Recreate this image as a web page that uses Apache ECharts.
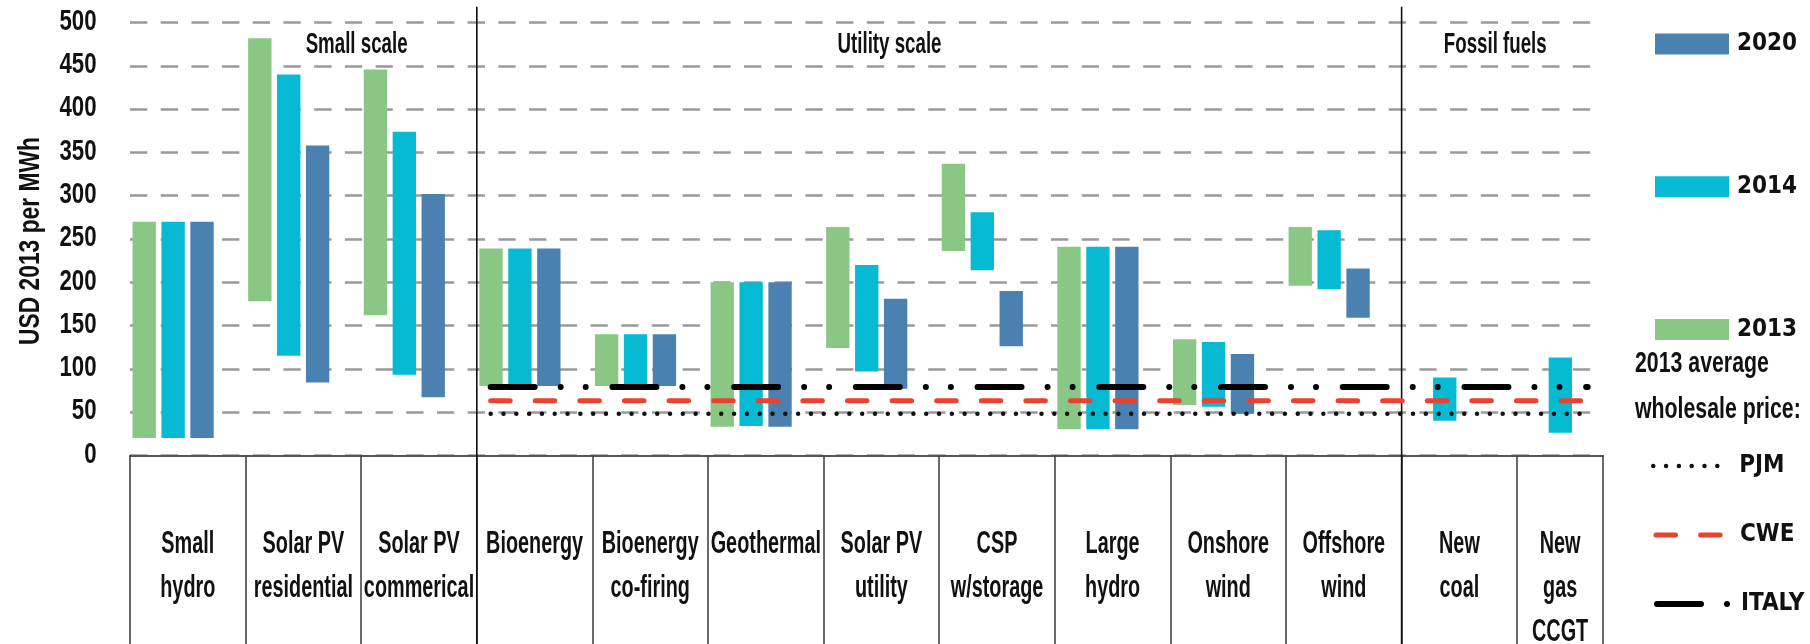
<!DOCTYPE html>
<html><head><meta charset="utf-8">
<script src="https://cdn.jsdelivr.net/npm/echarts@6/dist/echarts.min.js"></script>
<style>html,body{margin:0;padding:0;background:#fff}#c{width:1810px;height:644px}</style>
</head><body><div id="c"></div>
<script>
// ---------- DATA ----------
const categories = ['Small\nhydro','Solar PV\nresidential','Solar PV\ncommerical','Bioenergy','Bioenergy\nco-firing','Geothermal','Solar PV\nutility','CSP\nw/storage','Large\nhydro','Onshore\nwind','Offshore\nwind','New\ncoal','New\ngas\nCCGT'];
const low2013  = [20,178,162,80,80,33,124,236,30,58,196,null,null];
const high2013 = [270,482,446,239,140,200,264,337,241,134,264,null,null];
const low2014  = [20,115,93,80,80,34,97,214,30,56,192,40,26];
const high2014 = [270,440,374,239,140,200,220,281,241,131,260,90,113];
const low2020  = [20,84,67,80,80,33,77,126,30,48,159,null,null];
const high2020 = [270,358,302,239,140,200,181,190,241,117,216,null,null];
const priceNames  = ['PJM','CWE','ITALY'];
const priceValues = [48,63,79];
const priceSpan   = [3.12, 12.61];          // in category units
const sectionNames    = ['Small scale','Utility scale','Fossil fuels'];
const sectionDividers = [3, 11];
const yTicks = [0,50,100,150,200,250,300,350,400,450,500];
const yTitle = 'USD 2013 per MWh';
const legendTitle = '2013 average\nwholesale price:';

// ---------- STYLE / LAYOUT ----------
const SFONT = "'Liberation Sans','Arial',sans-serif";           // horizontally condensed by scaleX
const LFONT = "'DejaVu Sans Condensed','Liberation Sans',sans-serif";
const TXT = '#111';
const X_MAX = 12.742;
const BAR_START = 0.022, BAR_W = 0.202, BAR_STEP = 0.25;
const sectionTitleX = [1.96, 6.57, 11.81];
const colors = {y2013:'#8AC785', y2014:'#06BAD3', y2020:'#4B81B0'};
const priceStyles = [
  {color:'#111', width:4.5, type:[0.01,12.8], cap:'round'},
  {color:'#E8432E', width:5, type:[19.5,25.1], cap:'round'},
  {color:'#000', width:6, type:[44,26,0.01,25,0.01,26.7], cap:'round'}
];
const priceLegendPos = [{left:1651, top:454, w:70, pad:11},{left:1653.5, top:523, w:70, pad:9},{left:1654, top:592, w:71, pad:8}];

const chart = echarts.init(document.getElementById('c'), null, {renderer:'canvas'});

function sText(text, x, y, size, scaleX, extra){
  return {type:'text', x, y, scaleX, style:Object.assign({text, fontFamily:SFONT, fontWeight:'bold', fontSize:size, fill:TXT}, extra||{})};
}

function barSeries(name, lows, highs, slot, color){
  const data = [];
  lows.forEach((l,i)=>{ if(l!=null && highs[i]!=null) data.push([i,l,highs[i]]); });
  return {
    type:'custom', name, data, z:2,
    encode:{x:0, y:[1,2]},
    itemStyle:{color},
    renderItem(params, api){
      const i = api.value(0), lo = api.value(1), hi = api.value(2);
      const x0 = i + BAR_START + slot*BAR_STEP;
      const p0 = api.coord([x0, hi]);
      const p1 = api.coord([x0 + BAR_W, lo]);
      return {type:'rect', shape:{x:p0[0], y:p0[1], width:p1[0]-p0[0], height:p1[1]-p0[1]}, style:{fill:color}};
    }
  };
}

const series = [
  barSeries('2013', low2013, high2013, 0, colors.y2013),
  barSeries('2014', low2014, high2014, 1, colors.y2014),
  barSeries('2020', low2020, high2020, 2, colors.y2020)
];
priceNames.forEach((n,k)=>{
  series.push({
    type:'line', name:n, z:5, symbol:'none', silent:true,
    data:[[priceSpan[0], priceValues[k]],[priceSpan[1], priceValues[k]]],
    lineStyle:priceStyles[k], itemStyle:{color:priceStyles[k].color}
  });
});
// category cell labels
series.push({
  type:'custom', name:'cats', silent:true, clip:false, z:3,
  data: categories.map((c,i)=>[i, 0]),
  renderItem(params, api){
    const i = api.value(0);
    const xc = (i + Math.min(i+1, X_MAX))/2;
    const p = api.coord([xc, 0]);
    return sText(categories[i], p[0], p[1]+67.5, 31, 0.64, {align:'center', verticalAlign:'top', lineHeight:44});
  }
});
// y tick labels
series.push({
  type:'custom', name:'yticks', silent:true, clip:false, z:3,
  data: yTicks.map(v=>[0, v]),
  renderItem(params, api){
    const p = api.coord([api.value(0), api.value(1)]);
    return sText(String(api.value(1)), p[0]-33.5, p[1]-1, 30, 0.74, {align:'right', verticalAlign:'middle'});
  }
});
// y axis title
series.push({
  type:'custom', name:'ytitle', silent:true, clip:false, z:3,
  data: [[0, (yTicks[0]+yTicks[yTicks.length-1])/2]],
  renderItem(params, api){
    const p = api.coord([api.value(0), api.value(1)]);
    return Object.assign(sText(yTitle, p[0]-99, p[1]+2, 30, 0.76, {align:'center', verticalAlign:'middle'}), {rotation:Math.PI/2});
  }
});
// section dividers
series.push({
  type:'custom', name:'dividers', silent:true, clip:false, z:4,
  data: sectionDividers.map(d=>[d, yTicks[yTicks.length-1]]),
  renderItem(params, api){
    const p = api.coord([api.value(0), api.value(1)]);
    return {type:'line', shape:{x1:p[0], y1:p[1]-16, x2:p[0], y2:api.getHeight()}, style:{stroke:'#111', lineWidth:1.6}};
  }
});
// section titles
series.push({
  type:'custom', name:'sections', silent:true, clip:false, z:4,
  data: sectionNames.map((s,k)=>[sectionTitleX[k], yTicks[yTicks.length-1]]),
  renderItem(params, api){
    const k = params.dataIndex;
    const p = api.coord([api.value(0), api.value(1)]);
    return sText(sectionNames[k], p[0], p[1]+22.5, 29, 0.645, {align:'center', verticalAlign:'middle'});
  }
});

const legends = [
  {data:['2020','2014','2013'], orient:'vertical', left:1655, top:32, icon:'rect', padding:0,
   itemWidth:74, itemHeight:21, itemGap:118.7, selectedMode:false,
   textStyle:{fontFamily:LFONT, fontWeight:'bold', fontSize:24, lineHeight:21, color:TXT, padding:[0,0,0,3]}}
];
priceNames.forEach((n,k)=>{
  const L = priceLegendPos[k], s = priceStyles[k];
  legends.push({data:[n], left:L.left, top:L.top, padding:0, itemWidth:L.w, itemHeight:14, selectedMode:false,
    itemStyle:{opacity:0},
    lineStyle:{color:s.color, width:s.width, type:s.type, cap:s.cap, opacity:1},
    textStyle:{fontFamily:LFONT, fontWeight:'bold', fontSize:24, lineHeight:14, color:TXT, padding:[0,0,0,L.pad]}});
});

chart.setOption({
  animation:false,
  backgroundColor:'#fff',
  grid:{left:130, right:1810-1603, top:22.7, bottom:644-455.3},
  xAxis:{type:'value', min:0, max:X_MAX, interval:1,
    axisLine:{show:true, lineStyle:{color:'#555', width:2}},
    axisTick:{show:true, length:189, lineStyle:{color:'#444', width:1.6}},
    axisLabel:{show:false}, splitLine:{show:false}},
  yAxis:{type:'value', min:yTicks[0], max:yTicks[yTicks.length-1], interval:yTicks[1]-yTicks[0],
    axisLine:{show:false}, axisTick:{show:false}, axisLabel:{show:false},
    splitLine:{show:true, lineStyle:{color:'#999', width:2.5, type:[17.3,13.4]}}},
  legend:legends,
  graphic:[ sText(legendTitle, 1635, 341, 30, 0.71, {align:'left', verticalAlign:'top', lineHeight:46}) ],
  series
});
</script></body></html>
